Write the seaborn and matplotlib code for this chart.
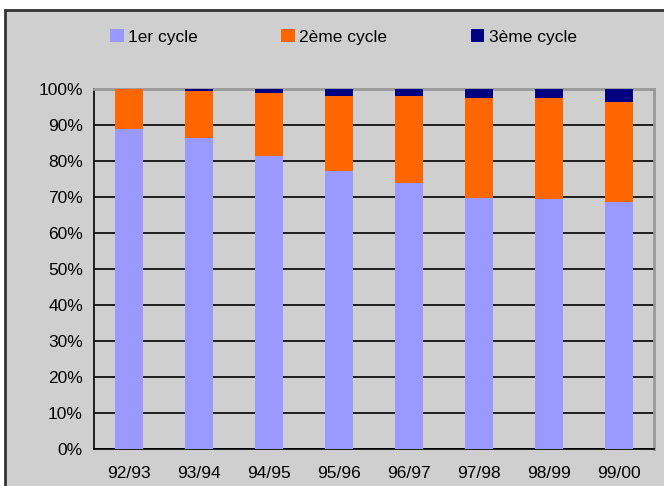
import seaborn as sns
import pandas as pd
import matplotlib.pyplot as plt
from matplotlib.patches import Rectangle, Patch
from matplotlib.ticker import PercentFormatter, FixedLocator

# data (share of students per cycle, %)
years = ["92/93", "93/94", "94/95", "95/96", "96/97", "97/98", "98/99", "99/00"]
cycle1 = [88.9, 86.4, 81.4, 77.3, 73.9, 69.8, 69.4, 68.6]
cycle2 = [11.1, 13.0, 17.5, 20.8, 24.2, 27.7, 28.1, 27.8]
cycle3 = [0.0, 0.6, 1.1, 1.9, 1.9, 2.5, 2.5, 3.6]
labels = ["1er cycle", "2ème cycle", "3ème cycle"]
colors = ["#9999ff", "#ff6600", "#000080"]

df = pd.DataFrame({"annee": years, "c1": cycle1, "c2": cycle2, "c3": cycle3})
df["s1"] = df["c1"]
df["s2"] = df["c1"] + df["c2"]
df["s3"] = df["s2"] + df["c3"]

sns.set_style("white")
plt.rcParams["font.family"] = ["Liberation Sans", "DejaVu Sans"]
plt.rcParams["text.color"] = "black"

fig = plt.figure(figsize=(6.64, 4.86), dpi=100)
fig.patch.set_facecolor("white")
bg = Rectangle((5 / 664, -0.1), 1.2, 1.1 - 10 / 486, transform=fig.transFigure,
               facecolor="#cfcfcf", edgecolor="#333333", linewidth=2, zorder=-5)
fig.patches.append(bg)

ax = fig.add_axes([94 / 664, 1 - 449 / 486, 560 / 664, 360 / 486])
ax.set_facecolor("#cfcfcf")

# stacked: draw totals first, then lower parts on top
for col, c in zip(["s3", "s2", "s1"], colors[::-1]):
    sns.barplot(data=df, x="annee", y=col, color=c, width=0.41, ax=ax,
                saturation=1, linewidth=0, zorder=3)

ax.set_xlim(-0.5, len(years) - 0.5)
ax.set_ylim(0, 100)
ax.set_yticks(range(0, 101, 10))
ax.yaxis.set_major_formatter(PercentFormatter(decimals=0))
ax.yaxis.grid(True, color="black", linewidth=1.2, zorder=1)
ax.set_axisbelow(True)
ax.set_xlabel("")
ax.set_ylabel("")

ax.xaxis.set_minor_locator(FixedLocator([i - 0.5 for i in range(len(years) + 1)]))
ax.tick_params(axis="x", which="major", length=0, pad=12, labelsize=12.5, colors="black")
ax.tick_params(axis="x", which="minor", length=5, width=1, color="black", direction="out")
ax.tick_params(axis="y", length=5, width=1, color="black", labelcolor="black",
               direction="out", labelsize=12.5, pad=3)

for s in ["left", "bottom"]:
    ax.spines[s].set_color("black")
    ax.spines[s].set_linewidth(1.2)
for s in ["top", "right"]:
    ax.spines[s].set_color("#999999")
    ax.spines[s].set_linewidth(2)

handles = [Patch(facecolor=c, edgecolor="none") for c in colors]
fig.legend(handles, labels, loc="center", bbox_to_anchor=(0.517, 1 - 37 / 486), ncol=3,
           frameon=False, fontsize=12.5, handlelength=0.8, handleheight=0.8,
           handletextpad=0.25, columnspacing=4.8)

fig.savefig("out.png", dpi=100, facecolor=fig.get_facecolor())
